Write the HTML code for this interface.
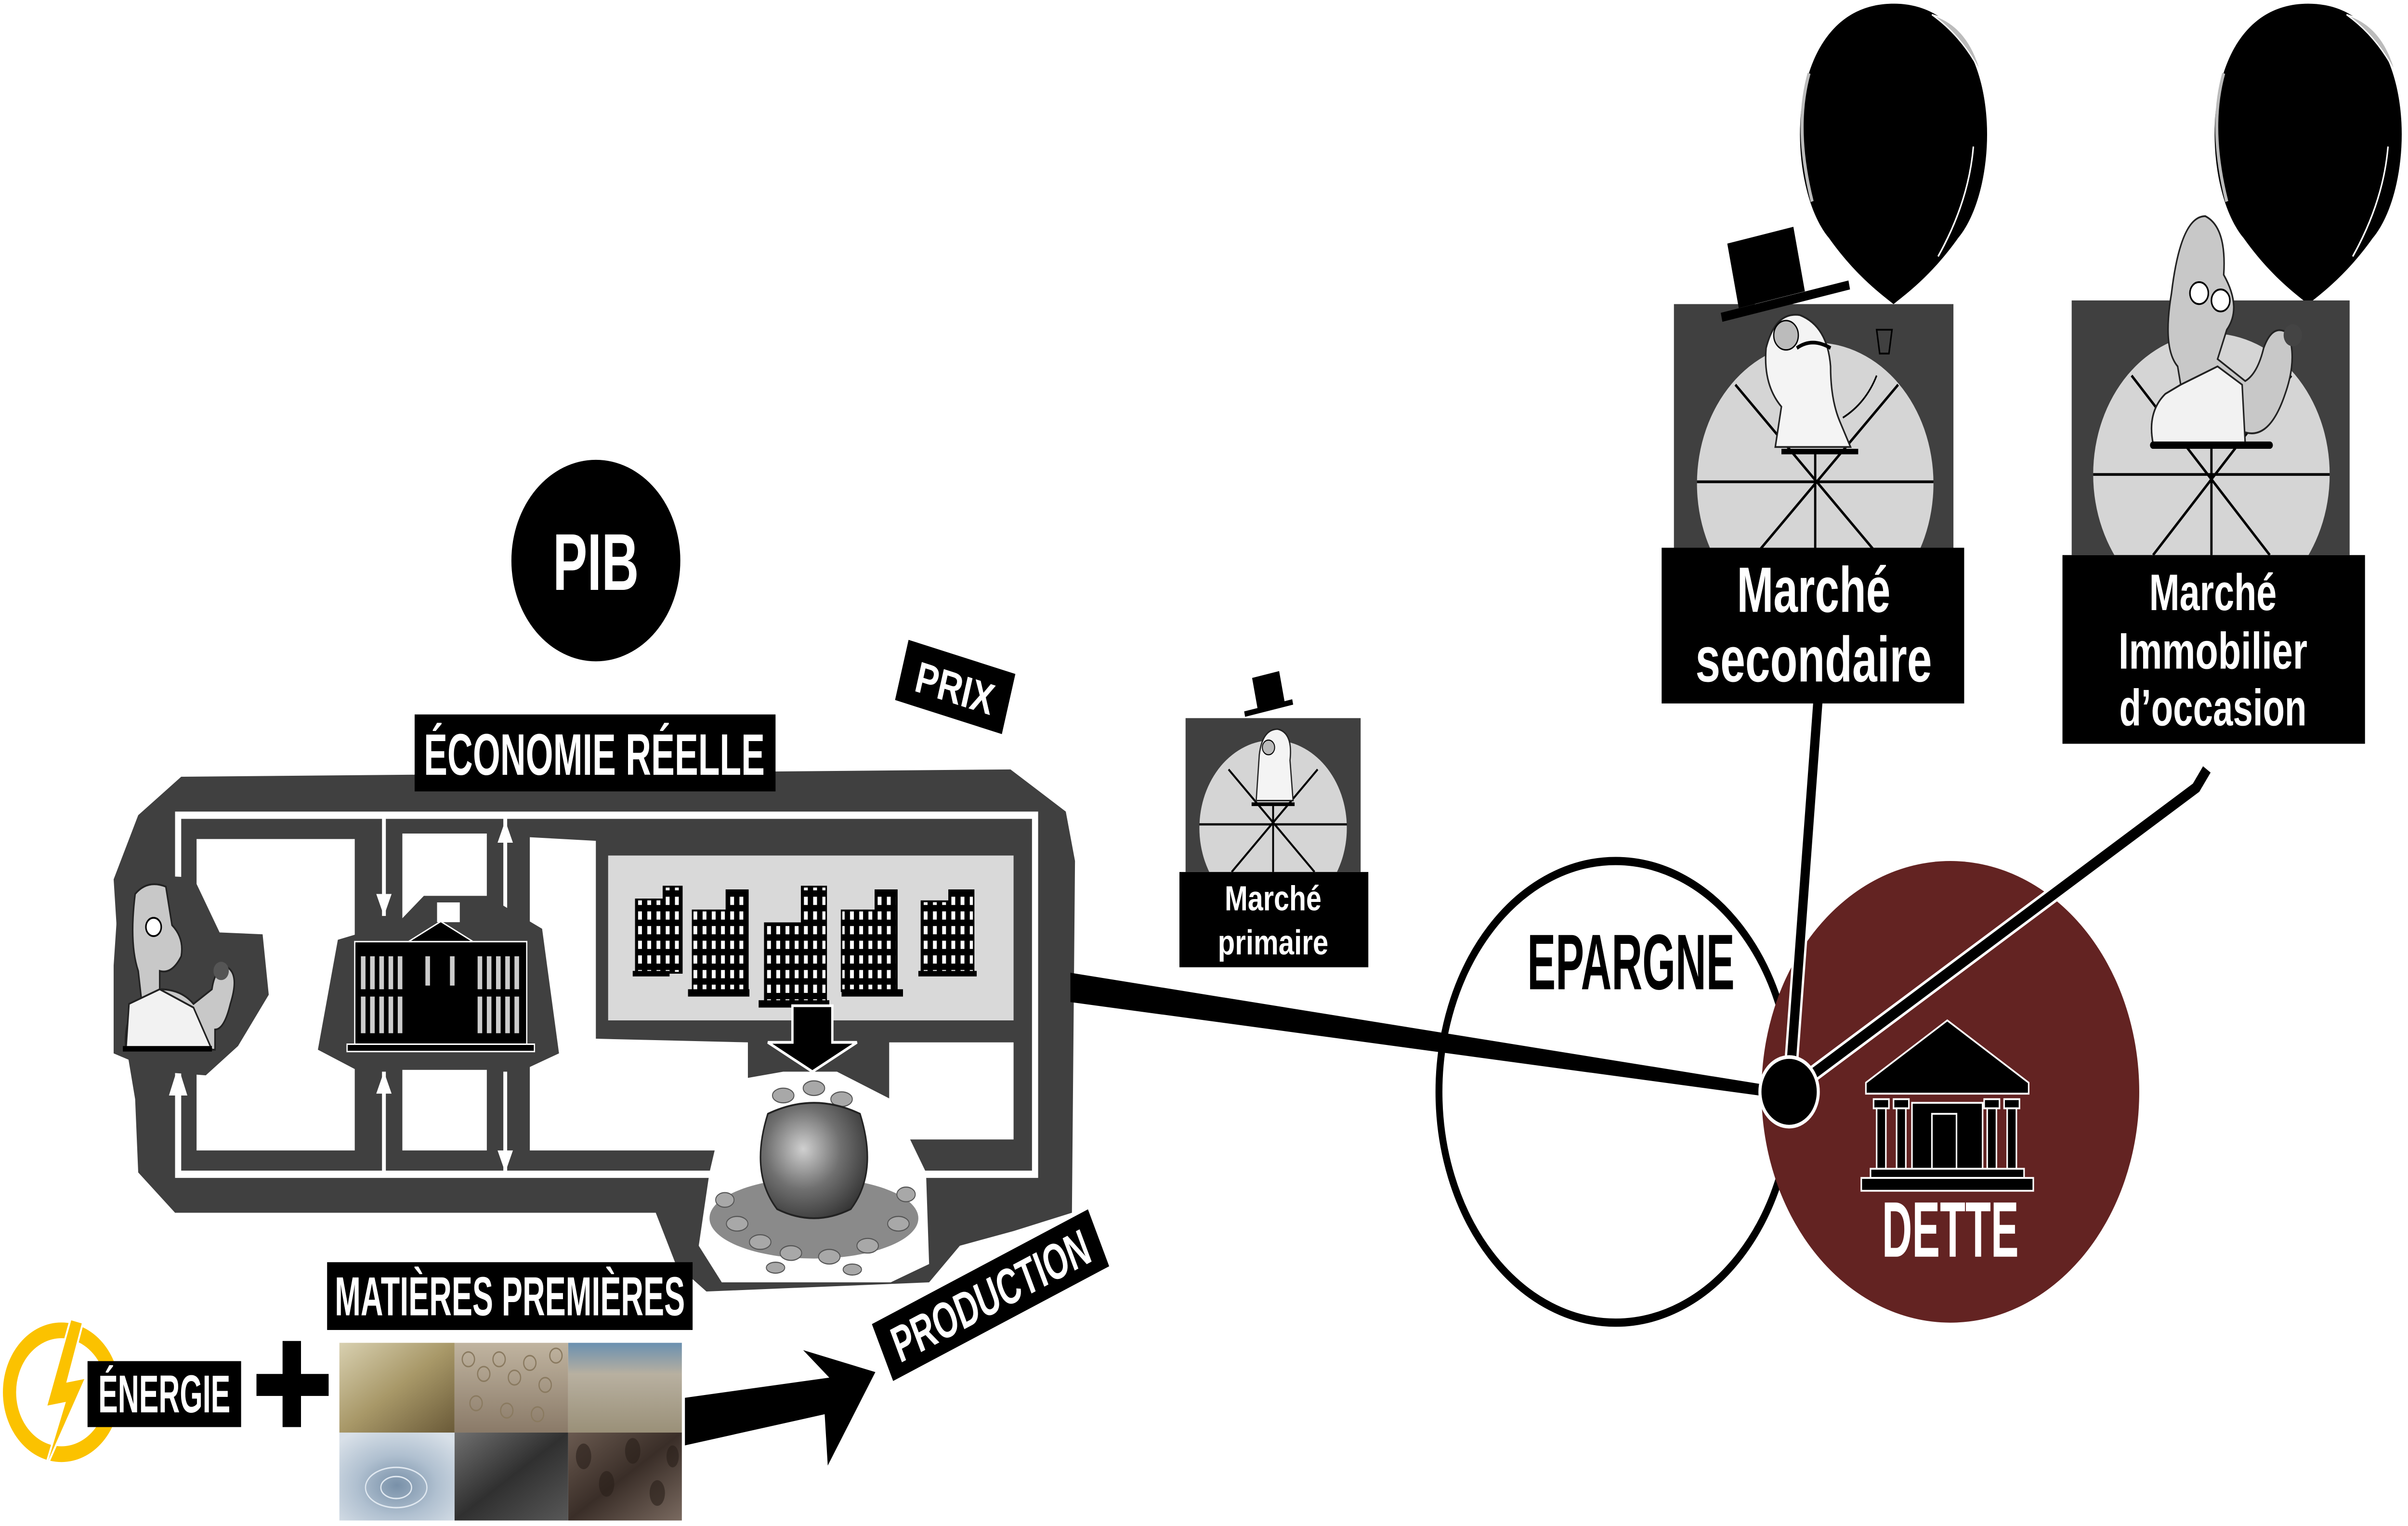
<!DOCTYPE html>
<html><head><meta charset="utf-8"><style>
html,body{margin:0;padding:0;background:#fff;overflow:hidden;width:100%;height:100%}
svg{display:block;position:fixed;left:0;top:0;width:100vw;height:100vh}
.t{font-family:"Liberation Sans Narrow","Liberation Sans",sans-serif;font-weight:bold}
</style></head><body>
<svg viewBox="0 0 1568 833" preserveAspectRatio="none" xmlns="http://www.w3.org/2000/svg">
<defs>
<pattern id="win" width="6" height="8" patternUnits="userSpaceOnUse"><rect width="6" height="8" fill="#000"/><rect x="1.5" y="1.5" width="2.5" height="4.5" fill="#fff"/></pattern>
<linearGradient id="gold" x1="0" y1="0" x2="1" y2="1"><stop offset="0" stop-color="#d8d0b0"/><stop offset="0.5" stop-color="#a89868"/><stop offset="1" stop-color="#6a5a38"/></linearGradient>
<linearGradient id="wood" x1="0" y1="0" x2="0" y2="1"><stop offset="0" stop-color="#c0b4a0"/><stop offset="1" stop-color="#8a7a68"/></linearGradient>
<linearGradient id="wheat" x1="0" y1="0" x2="0" y2="1"><stop offset="0" stop-color="#6a90b0"/><stop offset="0.35" stop-color="#b8b0a0"/><stop offset="1" stop-color="#9a9078"/></linearGradient>
<radialGradient id="water" cx="0.5" cy="0.6" r="0.7"><stop offset="0" stop-color="#7890a8"/><stop offset="0.5" stop-color="#b0c0d0"/><stop offset="1" stop-color="#d8e0e8"/></radialGradient>
<linearGradient id="coal" x1="0" y1="0" x2="1" y2="1"><stop offset="0" stop-color="#707070"/><stop offset="0.5" stop-color="#303030"/><stop offset="1" stop-color="#585858"/></linearGradient>
<linearGradient id="coffee" x1="0" y1="0" x2="1" y2="1"><stop offset="0" stop-color="#6a5a50"/><stop offset="0.5" stop-color="#3a2e28"/><stop offset="1" stop-color="#7a6a60"/></linearGradient>
<radialGradient id="pot" cx="0.4" cy="0.4" r="0.7"><stop offset="0" stop-color="#d0d0d0"/><stop offset="0.5" stop-color="#707070"/><stop offset="1" stop-color="#303030"/></radialGradient>
<clipPath id="c1"><rect x="1090" y="166" width="182" height="133"/></clipPath>
<clipPath id="c2"><rect x="1349" y="164" width="181" height="139"/></clipPath>
<clipPath id="c3"><rect x="772" y="392" width="114" height="84"/></clipPath>
</defs>

<circle cx="388" cy="306" r="55" fill="#000"/>
<text class="t" x="388" y="322" font-size="44" fill="#fff" text-anchor="middle" textLength="56" lengthAdjust="spacingAndGlyphs">PIB</text>

<g transform="translate(622,375) rotate(15)">
<rect x="-36" y="-17" width="72" height="34" fill="#000"/>
<text class="t" x="0" y="9" font-size="24" fill="#fff" text-anchor="middle" textLength="52" lengthAdjust="spacingAndGlyphs">PRIX</text>
</g>

<polygon points="118,424 658,420 694,443 700,470 698,662 660,672 625,680 605,700 460,705 440,690 427,662 114,662 90,640 88,600 80,560 74,480 90,445" fill="#404040"/>
<rect x="128" y="458" width="103" height="170" fill="#fff"/>
<rect x="262" y="455" width="55" height="173" fill="#fff"/>
<polygon points="345,457 388,459 388,567 487,569 487,628 345,628" fill="#fff"/>
<rect x="579" y="569" width="81" height="53" fill="#fff"/>
<path d="M116,641 L116,445 L674,445 L674,641 Z" fill="none" stroke="#fff" stroke-width="4"/>
<line x1="250" y1="447" x2="250" y2="500" stroke="#fff" stroke-width="2.5"/>
<polygon points="245,488 255,488 250,500" fill="#fff"/>
<line x1="250" y1="641" x2="250" y2="585" stroke="#fff" stroke-width="2.5"/>
<polygon points="245,597 255,597 250,585" fill="#fff"/>
<line x1="329" y1="447" x2="329" y2="500" stroke="#fff" stroke-width="2.5"/>
<polygon points="324,460 334,460 329,448" fill="#fff"/>
<line x1="329" y1="585" x2="329" y2="641" stroke="#fff" stroke-width="2.5"/>
<polygon points="324,628 334,628 329,640" fill="#fff"/>
<polygon points="110,598 122,598 116,582" fill="#fff"/>
<rect x="396" y="467" width="264" height="90" fill="#d9d9d9"/>
<g fill="url(#win)" stroke="#000" stroke-width="1">
<rect x="414" y="491" width="18" height="40"/><rect x="432" y="484" width="12" height="47"/>
<rect x="451" y="497" width="22" height="44"/><rect x="473" y="486" width="14" height="55"/>
<rect x="498" y="504" width="24" height="43"/><rect x="522" y="484" width="16" height="63"/>
<rect x="548" y="497" width="22" height="44"/><rect x="570" y="486" width="14" height="55"/>
<rect x="600" y="492" width="18" height="39"/><rect x="618" y="486" width="16" height="45"/>
</g>
<rect x="412" y="530" width="24" height="3" fill="#000"/><rect x="448" y="540" width="40" height="4" fill="#000"/>
<rect x="494" y="546" width="46" height="4" fill="#000"/><rect x="548" y="540" width="40" height="4" fill="#000"/>
<rect x="598" y="530" width="38" height="3" fill="#000"/>
<polygon points="516,549 542,549 542,569 558,569 529,585 500,569 516,569" fill="#000" stroke="#fff" stroke-width="1.5"/>
<polygon points="78,477 126,479 143,509 171,510 175,543 155,571 134,587 102,585 74,575 74,527" fill="#404040"/>
<path d="M88,488 Q96,480 108,484 L112,505 Q120,512 118,522 Q112,532 104,530 L104,540 Q118,540 126,548 L138,540 Q140,528 148,528 Q156,532 150,548 Q146,562 140,562 L140,573 L82,573 Q80,556 92,545 L90,530 Q84,515 88,488 Z" fill="#c8c8c8" stroke="#222" stroke-width="1"/>
<path d="M84,548 L104,540 L126,550 L138,573 L82,573 Z" fill="#f2f2f2" stroke="#222" stroke-width="1"/>
<circle cx="100" cy="506" r="5" fill="#fff" stroke="#000"/><circle cx="144" cy="530" r="5" fill="#555"/>
<rect x="80" y="571" width="58" height="3" fill="#000"/>
<polygon points="207,573 220,513 260,503 276,489 317,489 353,507 364,575 341,584 232,584" fill="#404040"/>
<g stroke="#fff" stroke-width="0.8">
<rect x="231" y="514" width="112" height="56" fill="#000"/>
<polygon points="266,514 287,503 308,514" fill="#000"/>
<rect x="285" y="493" width="14" height="10" fill="#fff"/>
<line x1="287" y1="493" x2="287" y2="503"/>
<rect x="226" y="570" width="122" height="4" fill="#000"/>
</g>
<g fill="#ccc">
<rect x="235" y="522" width="3" height="18"/><rect x="241" y="522" width="3" height="18"/><rect x="247" y="522" width="3" height="18"/><rect x="253" y="522" width="3" height="18"/><rect x="259" y="522" width="3" height="18"/>
<rect x="235" y="544" width="3" height="20"/><rect x="241" y="544" width="3" height="20"/><rect x="247" y="544" width="3" height="20"/><rect x="253" y="544" width="3" height="20"/><rect x="259" y="544" width="3" height="20"/>
<rect x="311" y="522" width="3" height="18"/><rect x="317" y="522" width="3" height="18"/><rect x="323" y="522" width="3" height="18"/><rect x="329" y="522" width="3" height="18"/><rect x="335" y="522" width="3" height="18"/>
<rect x="311" y="544" width="3" height="20"/><rect x="317" y="544" width="3" height="20"/><rect x="323" y="544" width="3" height="20"/><rect x="329" y="544" width="3" height="20"/><rect x="335" y="544" width="3" height="20"/>
<rect x="277" y="522" width="3" height="16"/><rect x="293" y="522" width="3" height="16"/>
</g>
<polygon points="476,590 510,585 545,585 580,600 603,640 605,690 580,700 470,700 455,680 462,640" fill="#fff"/>
<ellipse cx="530" cy="665" rx="68" ry="22" fill="#8a8a8a"/>
<g fill="#a8a8a8" stroke="#555" stroke-width="0.6">
<ellipse cx="480" cy="668" rx="7" ry="4"/><ellipse cx="495" cy="678" rx="7" ry="4"/><ellipse cx="515" cy="684" rx="7" ry="4"/><ellipse cx="540" cy="686" rx="7" ry="4"/><ellipse cx="565" cy="680" rx="7" ry="4"/><ellipse cx="585" cy="668" rx="7" ry="4"/><ellipse cx="472" cy="655" rx="6" ry="4"/><ellipse cx="590" cy="652" rx="6" ry="4"/><ellipse cx="505" cy="692" rx="6" ry="3"/><ellipse cx="555" cy="693" rx="6" ry="3"/>
<ellipse cx="510" cy="598" rx="7" ry="4"/><ellipse cx="530" cy="594" rx="7" ry="4"/><ellipse cx="548" cy="600" rx="7" ry="4"/>
</g>
<path d="M500,608 Q530,596 560,608 Q572,640 554,660 Q530,670 506,660 Q488,640 500,608 Z" fill="url(#pot)" stroke="#222" stroke-width="1"/>
<rect x="270" y="390" width="235" height="42" fill="#000"/>
<text class="t" x="387" y="423" font-size="32" fill="#fff" text-anchor="middle" textLength="222" lengthAdjust="spacingAndGlyphs">ÉCONOMIE RÉELLE</text>

<polygon points="697,531 697,547 1163,600 1163,594" fill="#000"/>
<ellipse cx="1052" cy="596" rx="115" ry="126" fill="none" stroke="#000" stroke-width="4.5"/>
<ellipse cx="1270" cy="596" rx="123" ry="126" fill="#632322"/>
<line x1="1165" y1="596" x2="1184" y2="380" stroke="#fff" stroke-width="9"/>
<line x1="1165" y1="596" x2="1184" y2="380" stroke="#000" stroke-width="6"/>
<polyline points="1165,596 1430,430 1437,420" fill="none" stroke="#fff" stroke-width="9"/>
<polyline points="1165,596 1430,430 1437,420" fill="none" stroke="#000" stroke-width="6"/>
<circle cx="1165" cy="596" r="19" fill="#000" stroke="#fff" stroke-width="2"/>
<text class="t" x="1062" y="540" font-size="43" fill="#000" text-anchor="middle" textLength="135" lengthAdjust="spacingAndGlyphs">EPARGNE</text>
<text class="t" x="1270" y="686" font-size="43" fill="#fff" text-anchor="middle" textLength="89" lengthAdjust="spacingAndGlyphs">DETTE</text>
<g fill="#000" stroke="#fff" stroke-width="1">
<polygon points="1215,591 1268,557 1321,591 1321,597 1215,597"/>
<rect x="1220" y="600" width="10" height="5"/><rect x="1233" y="600" width="10" height="5"/><rect x="1292" y="600" width="10" height="5"/><rect x="1305" y="600" width="10" height="5"/>
<rect x="1222" y="605" width="6" height="33"/><rect x="1235" y="605" width="6" height="33"/><rect x="1294" y="605" width="6" height="33"/><rect x="1307" y="605" width="6" height="33"/>
<rect x="1245" y="602" width="46" height="36"/>
<rect x="1258" y="608" width="16" height="30"/>
<rect x="1218" y="638" width="100" height="5"/>
<rect x="1212" y="643" width="112" height="7"/>
</g>

<rect x="772" y="392" width="114" height="84" fill="#404040"/>
<g clip-path="url(#c3)">
<circle cx="829" cy="452" r="48" fill="#d5d5d5"/>
<g stroke="#000" stroke-width="1.2"><line x1="781" y1="450" x2="877" y2="450"/><line x1="829" y1="440" x2="829" y2="476"/><line x1="800" y1="420" x2="856" y2="476"/><line x1="858" y1="420" x2="802" y2="476"/></g>
</g>
<rect x="815" y="438" width="28" height="2" fill="#000"/>
<path d="M818,437 L820,412 Q822,398 832,398 Q842,400 840,415 L842,437 Z" fill="#f4f4f4" stroke="#222" stroke-width="0.8"/>
<circle cx="826" cy="408" r="4" fill="#bbb" stroke="#000" stroke-width="0.6"/>
<rect x="810" y="385" width="32" height="3" fill="#000" transform="rotate(-12 826 386)"/>
<rect x="817" y="368" width="18" height="18" fill="#000" transform="rotate(-12 826 377)"/>
<rect x="768" y="476" width="123" height="52" fill="#000"/>
<text class="t" x="829" y="497" font-size="19" fill="#fff" text-anchor="middle" textLength="63" lengthAdjust="spacingAndGlyphs">Marché</text>
<text class="t" x="829" y="521" font-size="19" fill="#fff" text-anchor="middle" textLength="72" lengthAdjust="spacingAndGlyphs">primaire</text>

<path d="M1233,2 C1305,2 1305,100 1275,130 C1258,150 1242,160 1233,166 C1224,160 1208,150 1191,130 C1161,100 1161,2 1233,2 Z" fill="#000"/>
<path d="M1258,8 Q1282,14 1290,40 Q1278,20 1258,8 Z" fill="#bbb" stroke="#fff" stroke-width="0.8"/>
<path d="M1178,40 Q1168,70 1180,110" fill="none" stroke="#bbb" stroke-width="2"/>
<path d="M1285,80 Q1282,110 1262,140" fill="none" stroke="#fff" stroke-width="1"/>
<path d="M1503,2 C1575,2 1575,100 1545,130 C1528,150 1512,160 1503,166 C1494,160 1478,150 1461,130 C1431,100 1431,2 1503,2 Z" fill="#000"/>
<path d="M1528,8 Q1552,14 1560,40 Q1548,20 1528,8 Z" fill="#bbb" stroke="#fff" stroke-width="0.8"/>
<path d="M1448,40 Q1438,70 1450,110" fill="none" stroke="#bbb" stroke-width="2"/>
<path d="M1555,80 Q1552,110 1532,140" fill="none" stroke="#fff" stroke-width="1"/>

<rect x="1090" y="166" width="182" height="133" fill="#404040"/>
<g clip-path="url(#c1)">
<circle cx="1182" cy="264" r="77" fill="#d5d5d5"/>
<g stroke="#000" stroke-width="1.5"><line x1="1105" y1="263" x2="1259" y2="263"/><line x1="1182" y1="246" x2="1182" y2="300"/><line x1="1130" y1="210" x2="1220" y2="300"/><line x1="1236" y1="210" x2="1146" y2="300"/></g>
</g>
<rect x="1160" y="245" width="50" height="3" fill="#000"/>
<path d="M1156,244 L1160,222 Q1148,210 1150,190 Q1156,170 1172,172 Q1190,178 1192,200 Q1192,218 1198,230 L1205,244 Z" fill="#f4f4f4" stroke="#222" stroke-width="1"/>
<circle cx="1163" cy="183" r="8" fill="#bbb" stroke="#000" stroke-width="0.8"/>
<path d="M1170,190 Q1180,184 1192,190" fill="none" stroke="#000" stroke-width="2"/>
<path d="M1200,228 Q1215,220 1222,205" fill="none" stroke="#000" stroke-width="1"/>
<path d="M1222,180 L1232,180 L1230,193 L1224,193 Z" fill="none" stroke="#000" stroke-width="1"/>
<rect x="1120" y="162" width="85" height="5" fill="#000" transform="rotate(-12 1162 164)"/>
<rect x="1128" y="128" width="44" height="36" fill="#000" transform="rotate(-12 1150 146)"/>
<rect x="1082" y="299" width="197" height="85" fill="#000"/>
<text class="t" x="1181" y="334" font-size="35" fill="#fff" text-anchor="middle" textLength="100" lengthAdjust="spacingAndGlyphs">Marché</text>
<text class="t" x="1181" y="372" font-size="35" fill="#fff" text-anchor="middle" textLength="154" lengthAdjust="spacingAndGlyphs">secondaire</text>

<rect x="1349" y="164" width="181" height="139" fill="#404040"/>
<g clip-path="url(#c2)">
<circle cx="1440" cy="259" r="77" fill="#d5d5d5"/>
<g stroke="#000" stroke-width="1.5"><line x1="1363" y1="259" x2="1517" y2="259"/><line x1="1440" y1="245" x2="1440" y2="303"/><line x1="1388" y1="205" x2="1478" y2="303"/><line x1="1492" y1="205" x2="1402" y2="303"/></g>
</g>
<path d="M1402,242 Q1398,225 1410,215 L1420,210 L1418,200 Q1408,190 1414,160 Q1420,118 1436,118 Q1450,124 1448,150 Q1460,168 1450,180 L1444,196 L1462,208 Q1470,204 1474,190 Q1480,176 1490,182 Q1496,196 1488,215 Q1478,240 1462,236 L1460,242 Z" fill="#c8c8c8" stroke="#222" stroke-width="1"/>
<path d="M1402,242 Q1398,225 1410,215 L1420,210 L1444,200 L1460,210 L1462,242 Z" fill="#f2f2f2" stroke="#222" stroke-width="1"/>
<circle cx="1432" cy="160" r="6" fill="#fff" stroke="#000"/><circle cx="1446" cy="164" r="6" fill="#fff" stroke="#000"/>
<circle cx="1493" cy="183" r="6" fill="#444"/>
<rect x="1400" y="241" width="80" height="4" fill="#000" rx="2"/>
<rect x="1343" y="303" width="197" height="103" fill="#000"/>
<text class="t" x="1441" y="333" font-size="28" fill="#fff" text-anchor="middle" textLength="83" lengthAdjust="spacingAndGlyphs">Marché</text>
<text class="t" x="1441" y="365" font-size="28" fill="#fff" text-anchor="middle" textLength="123" lengthAdjust="spacingAndGlyphs">Immobilier</text>
<text class="t" x="1441" y="396" font-size="28" fill="#fff" text-anchor="middle" textLength="122" lengthAdjust="spacingAndGlyphs">d’occasion</text>

<circle cx="40" cy="760" r="34" fill="none" stroke="#fbc200" stroke-width="9"/>
<circle cx="40" cy="760" r="38.5" fill="none" stroke="#fff" stroke-width="0.8"/>
<polygon points="46,720 30,768 42,766 28,805 56,752 44,754 54,722" fill="#fbc200" stroke="#fff" stroke-width="1.2"/>
<rect x="57" y="743" width="100" height="36" fill="#000"/>
<text class="t" x="107" y="771" font-size="29" fill="#fff" text-anchor="middle" textLength="86" lengthAdjust="spacingAndGlyphs">ÉNERGIE</text>
<rect x="184" y="732" width="12" height="47" fill="#000"/>
<rect x="167" y="750" width="47" height="12" fill="#000"/>
<rect x="213" y="689" width="238" height="37" fill="#000"/>
<text class="t" x="332" y="718" font-size="30" fill="#fff" text-anchor="middle" textLength="228" lengthAdjust="spacingAndGlyphs">MATIÈRES PREMIÈRES</text>
<rect x="221" y="733" width="75" height="49" fill="url(#gold)"/>
<rect x="296" y="733" width="74" height="49" fill="url(#wood)"/>
<rect x="370" y="733" width="74" height="49" fill="url(#wheat)"/>
<rect x="221" y="782" width="75" height="48" fill="url(#water)"/>
<rect x="296" y="782" width="74" height="48" fill="url(#coal)"/>
<rect x="370" y="782" width="74" height="48" fill="url(#coffee)"/>
<g fill="none" stroke="#8a7a60" stroke-width="0.8">
<circle cx="305" cy="742" r="4"/><circle cx="315" cy="750" r="4"/><circle cx="325" cy="742" r="4"/><circle cx="335" cy="752" r="4"/><circle cx="345" cy="744" r="4"/><circle cx="355" cy="756" r="4"/><circle cx="310" cy="766" r="4"/><circle cx="330" cy="770" r="4"/><circle cx="350" cy="772" r="4"/><circle cx="362" cy="740" r="4"/>
</g>
<g fill="#2a201a" opacity="0.6"><ellipse cx="380" cy="795" rx="5" ry="7"/><ellipse cx="395" cy="810" rx="5" ry="7"/><ellipse cx="412" cy="792" rx="5" ry="7"/><ellipse cx="428" cy="815" rx="5" ry="7"/><ellipse cx="438" cy="795" rx="4" ry="6"/></g>
<g fill="none" stroke="#e0e8f0" stroke-width="0.8"><ellipse cx="258" cy="812" rx="10" ry="6"/><ellipse cx="258" cy="812" rx="20" ry="11"/></g>
<polygon points="446,763 540,752 523,737 570,749 539,800 537,772 446,789" fill="#000"/>
<g transform="translate(645,707) rotate(-24)">
<rect x="-77" y="-17" width="154" height="34" fill="#000"/>
<text class="t" x="0" y="10" font-size="28" fill="#fff" text-anchor="middle" textLength="138" lengthAdjust="spacingAndGlyphs">PRODUCTION</text>
</g>
</svg>
</body></html>
